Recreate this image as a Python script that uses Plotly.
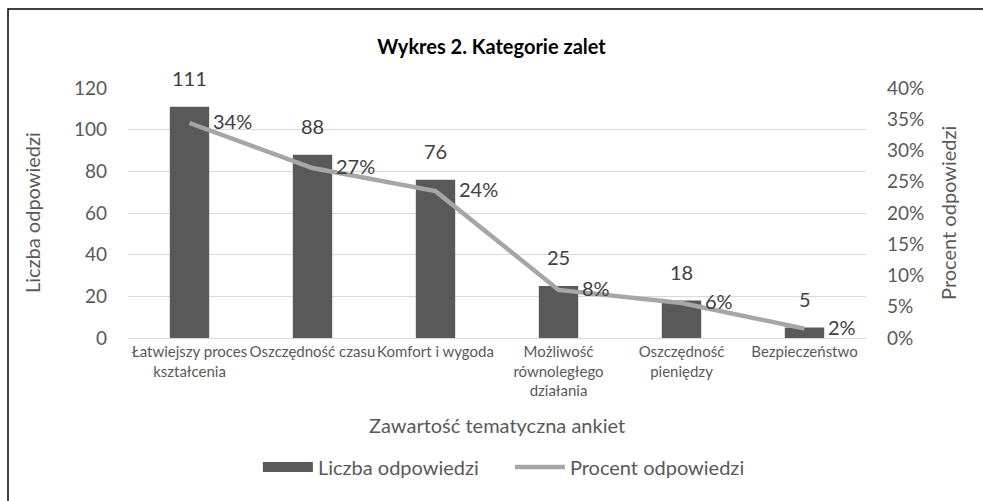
import plotly.graph_objects as go

categories = ["Łatwiejszy proces<br>kształcenia", "Oszczędność czasu", "Komfort i wygoda",
              "Możliwość<br>równoległego<br>działania", "Oszczędność<br>pieniędzy", "Bezpieczeństwo"]
counts = [111, 88, 76, 25, 18, 5]
percents = [34.4, 27.2, 23.5, 7.7, 5.6, 1.5]
percent_labels = ["34%", "27%", "24%", "8%", "6%", "2%"]

FONT = "Lato, 'Noto Sans', sans-serif"
GRAY = "#595959"
LABEL = "#404040"

fig = go.Figure()

fig.add_trace(go.Bar(
    x=categories, y=counts, name="Liczba odpowiedzi",
    marker=dict(color="#595959", line_width=0),
    yaxis="y", showlegend=False, legendgroup="bars"
))
# legend entry drawn as a wide block, like the original
fig.add_trace(go.Scatter(
    x=[None], y=[None], name="Liczba odpowiedzi", mode="lines",
    line=dict(color="#595959", width=10), legendgroup="bars"
))
fig.add_trace(go.Scatter(
    x=categories, y=percents, name="Procent odpowiedzi",
    mode="lines", line=dict(color="#a6a6a6", width=4.5),
    yaxis="y2"
))

annotations = []
# bar value labels
for c, v in zip(categories, counts):
    annotations.append(dict(x=c, y=v, xref="x", yref="y", text=str(v), showarrow=False,
                            yshift=29, font=dict(size=20, color=LABEL, family=FONT)))
# percent labels right of the line points
for c, p, t in zip(categories, percents, percent_labels):
    annotations.append(dict(x=c, y=p, xref="x", yref="y2", text=t, showarrow=False,
                            xanchor="left", xshift=21, yshift=2,
                            font=dict(size=20, color=LABEL, family=FONT)))

annotations += [
    dict(text="Zawartość tematyczna ankiet", x=0.5, y=-0.348, xref="paper", yref="paper",
         xanchor="center", yanchor="middle", showarrow=False,
         font=dict(size=20, color=GRAY, family=FONT)),
    dict(text="Liczba odpowiedzi", x=-0.130, y=0.5, xref="paper", yref="paper",
         xanchor="center", yanchor="middle", textangle=-90, showarrow=False,
         font=dict(size=20, color=GRAY, family=FONT)),
    dict(text="Procent odpowiedzi", x=1.111, y=0.5, xref="paper", yref="paper",
         xanchor="center", yanchor="middle", textangle=-90, showarrow=False,
         font=dict(size=20, color=GRAY, family=FONT)),
]

fig.update_layout(
    width=983, height=501,
    margin=dict(l=128, r=117, t=88, b=163),
    paper_bgcolor="white", plot_bgcolor="white",
    font=dict(family=FONT, color=GRAY),
    title=dict(text="<b>Wykres 2. Kategorie zalet</b>", x=0.5, xanchor="center",
               y=1 - 47 / 501, yanchor="middle", font=dict(size=20, color="black", family=FONT)),
    bargap=0.68,
    showlegend=True,
    legend=dict(orientation="h", x=0.176, xanchor="left", y=-0.516, yanchor="middle",
                font=dict(size=20, color=GRAY), itemwidth=50,
                entrywidth=187, entrywidthmode="pixels"),
    xaxis=dict(showline=True, linecolor="#d9d9d9", linewidth=1, tickfont=dict(size=15, color=GRAY),
               ticks="", tickangle=0),
    yaxis=dict(range=[0, 120], dtick=20, showgrid=True, gridcolor="#d9d9d9", gridwidth=1,
               zeroline=False, tickfont=dict(size=19, color=GRAY), ticklabelstandoff=20),
    yaxis2=dict(range=[0, 40], dtick=5, ticksuffix="%", overlaying="y", side="right",
                showgrid=False, zeroline=False, tickfont=dict(size=19, color=GRAY),
                ticklabelstandoff=20),
    annotations=annotations,
    shapes=[dict(type="rect", xref="paper", yref="paper", x0=-0.1626, x1=1.5, y0=-1.0, y1=1.316,
                 line=dict(color="black", width=1.5), layer="below")],
)

fig.write_html("out.html", config={"displayModeBar": False},
               post_script="document.body.style.margin='0px';")
